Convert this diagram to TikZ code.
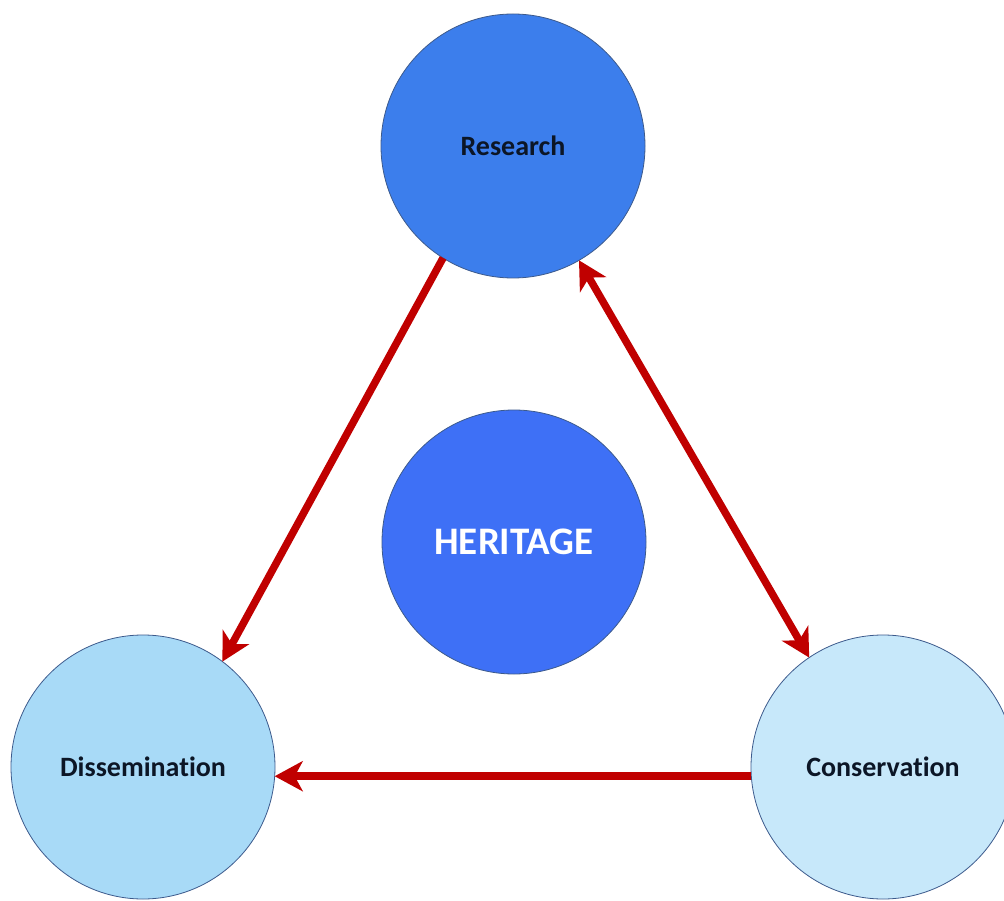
\documentclass[tikz,border=0pt]{standalone}
\usepackage{fontspec}
\setmainfont{Carlito}[Ligatures={NoCommon}]
\usetikzlibrary{arrows.meta}
\definecolor{resblue}{RGB}{60,126,236}
\definecolor{herblue}{RGB}{62,112,246}
\definecolor{dissblue}{RGB}{168,218,247}
\definecolor{consblue}{RGB}{199,232,250}
\definecolor{edgeblue}{RGB}{60,90,140}
\definecolor{arrred}{RGB}{192,0,0}
\definecolor{txtdark}{RGB}{12,22,38}
\tikzset{
  bubble/.style={circle, draw=edgeblue, line width=0.8pt, minimum size=264pt, inner sep=0pt, outer sep=0pt, font=\fontsize{28}{31}\selectfont\bfseries, text=txtdark},
  link/.style={draw=arrred, line width=7.5pt, -{Stealth[length=28pt,width=30pt,inset=8pt]}},
  duallink/.style={draw=arrred, line width=7.5pt, {Stealth[length=28pt,width=30pt,inset=8pt]}-{Stealth[length=28pt,width=30pt,inset=8pt]}}
}
\begin{document}
\begin{tikzpicture}[x=1pt,y=-1pt]
\useasboundingbox[fill=white] (0,0) rectangle (1004,901);
\begin{scope}
\clip (0,0) rectangle (1004,901);
\node[bubble, fill=resblue] (res) at (513,146) {Research};
\node[bubble, fill=herblue, text=white, font=\fontsize{39}{43}\selectfont\bfseries] (her) at (514,542) {HERITAGE};
\node[bubble, fill=dissblue] (diss) at (143,767) {Dissemination};
\node[bubble, fill=consblue] (cons) at (883,767) {Conservation};
\draw[link] (res.238.9) -- (diss.53.6);
\draw[duallink] (res.300) -- (cons.124.7);
\draw[link] (cons.184.3) -- (diss.-4.3);
\end{scope}
\end{tikzpicture}
\end{document}
